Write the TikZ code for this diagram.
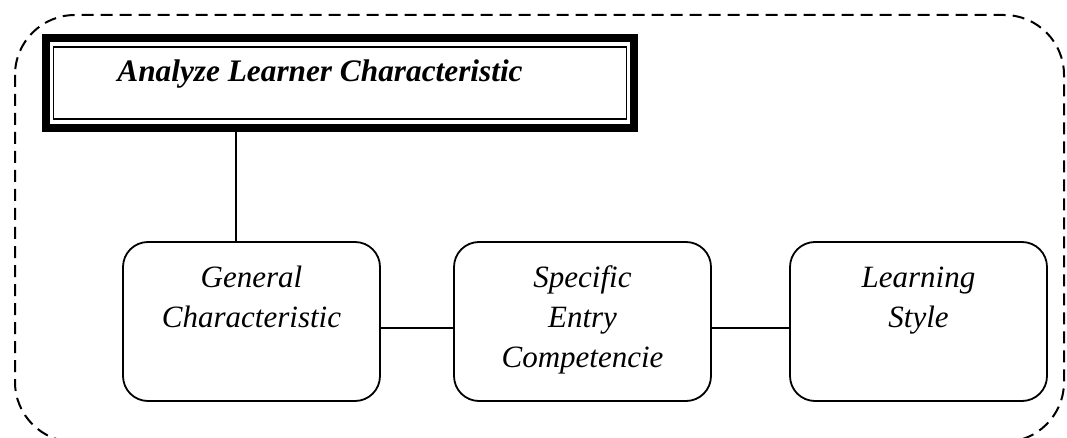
\documentclass[tikz,border=0pt]{standalone}
\usepackage{fontspec}
\setmainfont{Liberation Serif}
\usetikzlibrary{calc}
\tikzset{
  frame/.style={draw=black, line width=2pt, dash pattern=on 12pt off 7pt, rounded corners=60pt},
  titlebox/.style={draw=black, line width=8pt, minimum width=588pt, minimum height=90pt, inner sep=0pt, outer sep=0pt},
  stepbox/.style={draw=black, line width=1.8pt, rounded corners=25pt, minimum width=257pt, minimum height=159pt, inner sep=0pt},
  boxtext/.style={font=\fontsize{31}{40}\selectfont\itshape, align=center, inner sep=0pt, anchor=north},
  titletext/.style={font=\fontsize{31.3}{37}\selectfont\bfseries\itshape, inner sep=0pt, anchor=base},
  link/.style={draw=black, line width=1.5pt}
}
\begin{document}
\begin{tikzpicture}[x=1pt, y=-1pt]
\useasboundingbox[fill=white] (0,0) rectangle (1067,438);
% outer dashed frame
\draw[frame] (15,15) rectangle (1064,442);
% title
\node[titlebox] (title) at (340,83) {};
\draw[black, line width=1.5pt] ([shift={(7.5,9)}]title.north west) rectangle ([shift={(-7.5,-9)}]title.south east);
\node[titletext] (titlelbl) at (320,82) {Analyze Learner Characteristic};
% boxes
\node[stepbox] (gen) at (251.5,321.5) {};
\node[stepbox] (spec) at (582.5,321.5) {};
\node[stepbox] (learn) at (918.5,321.5) {};
\node[boxtext] (gentext) at (251.5,265) {\rule{0pt}{22pt}General\\Characteristic};
\node[boxtext] (spectext) at (582.5,265) {\rule{0pt}{22pt}Specific\\Entry\\Competencie};
\node[boxtext] (learntext) at (918.5,265) {\rule{0pt}{22pt}Learning\\Style};
% connectors
\coordinate (drop) at (236,132);
\draw[link] (drop) -- (drop |- gen.north);
\draw[link] (gen.east |- 0,328) -- (spec.west |- 0,328);
\draw[link] (spec.east |- 0,328) -- (learn.west |- 0,328);
\end{tikzpicture}
\end{document}
